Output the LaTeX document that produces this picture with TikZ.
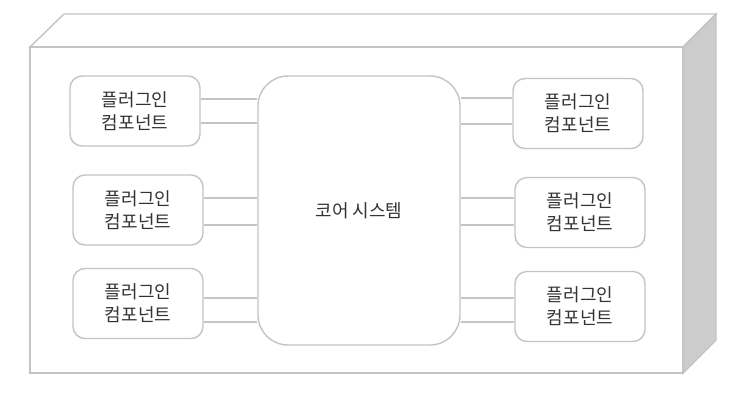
\documentclass[tikz,border=0pt]{standalone}
\usepackage{fontspec}
\setmainfont{Noto Sans CJK KR}
\definecolor{edge}{HTML}{C4C4C4}
\definecolor{side}{HTML}{CCCCCC}
\definecolor{txt}{HTML}{333333}
\begin{document}
\begin{tikzpicture}[x=1pt,y=-1pt,
  line width=1.4pt,
  plugin/.style={draw=edge,fill=white,rounded corners=12pt,minimum width=130pt,minimum height=70pt,
    align=center,font=\fontsize{18}{23}\selectfont,text=txt,inner sep=0pt},
  corebox/.style={draw=edge,fill=white,rounded corners=30pt,minimum width=202pt,minimum height=269pt,
    font=\fontsize{18}{23}\selectfont,text=txt},
  link/.style={draw=edge}]
\useasboundingbox (0,0) rectangle (742,408);
% 3D container
\draw[edge,fill=white,line join=miter] (30,47) -- (64,14) -- (716,14) -- (683,47) -- cycle;
\draw[edge,fill=side] (683,47) -- (716,14) -- (716,340) -- (683,373) -- cycle;
\draw[edge,fill=white] (30,47) rectangle (683,373);
% core
\node[corebox] (core) at (359,210.5) {코어 시스템};
% plugins left
\node[plugin] (l1) at (135,111) {플러그인\\컴포넌트};
\node[plugin] (l2) at (138,210) {플러그인\\컴포넌트};
\node[plugin] (l3) at (138,303.5) {플러그인\\컴포넌트};
% plugins right
\node[plugin] (r1) at (578,113.5) {플러그인\\컴포넌트};
\node[plugin] (r2) at (580,212.5) {플러그인\\컴포넌트};
\node[plugin] (r3) at (580,306.5) {플러그인\\컴포넌트};
% connectors
\foreach \n/\a/\b in {l1/99/123,l2/198/225,l3/298/322}{
  \draw[link] (\n.east |- 0,\a) -- (core.west |- 0,\a);
  \draw[link] (\n.east |- 0,\b) -- (core.west |- 0,\b);
}
\foreach \n/\a/\b in {r1/98/124,r2/198/225,r3/298/322}{
  \draw[link] (core.east |- 0,\a) -- (\n.west |- 0,\a);
  \draw[link] (core.east |- 0,\b) -- (\n.west |- 0,\b);
}
\end{tikzpicture}
\end{document}
